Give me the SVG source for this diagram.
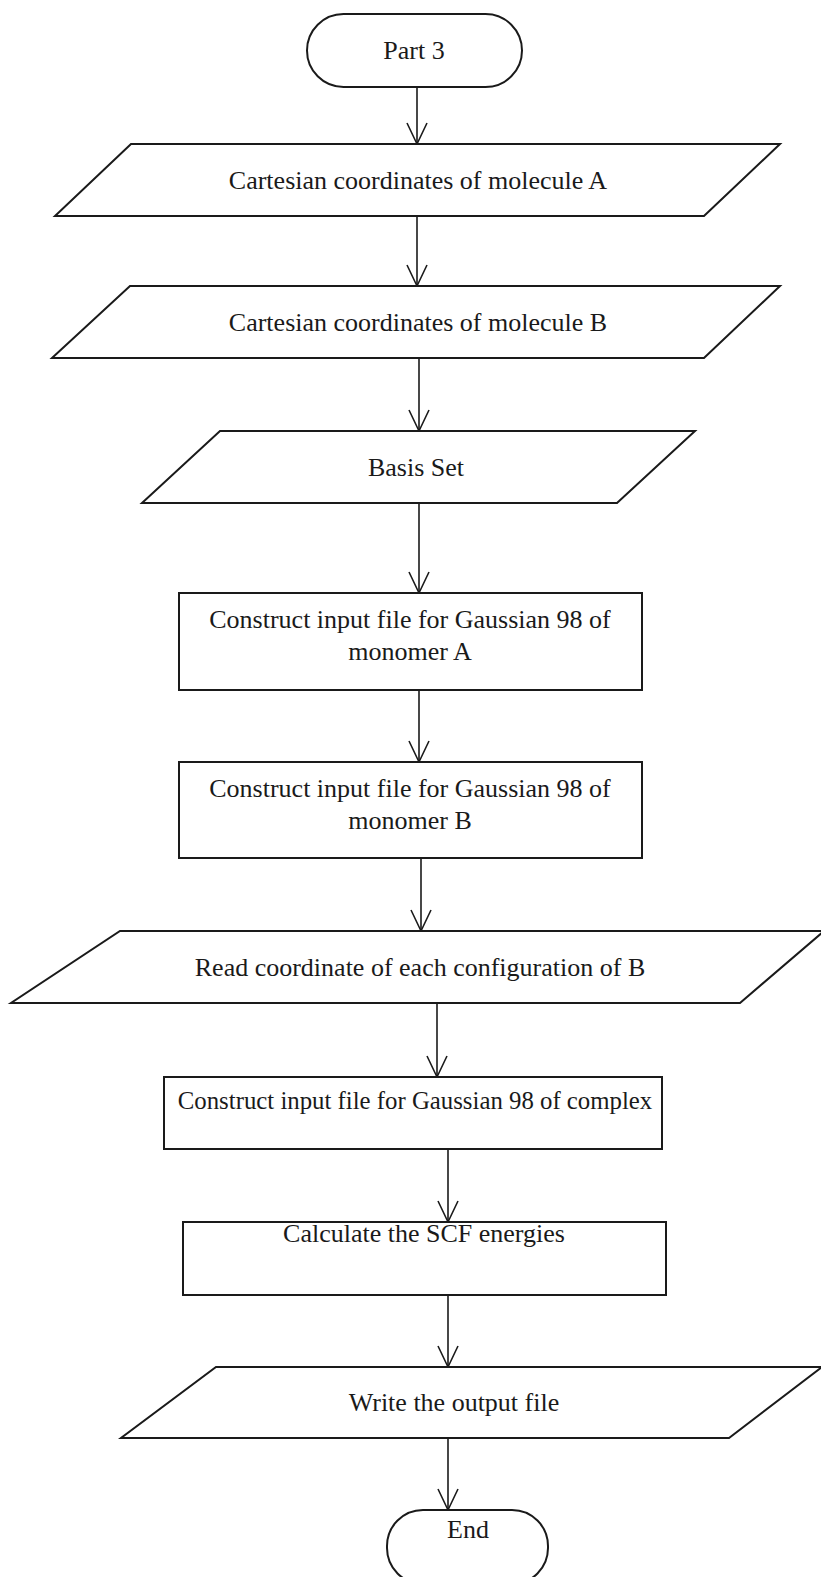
<svg xmlns="http://www.w3.org/2000/svg" width="821" height="1577" viewBox="0 0 821 1577">
<style>
.shape{fill:#fff;stroke:#1a1a1a;stroke-width:2}
.conn{stroke:#1a1a1a;stroke-width:1.6;fill:none}
.lbl{font-family:"Liberation Serif","Times New Roman",serif;font-size:26px;fill:#1a1a1a;text-anchor:middle}
</style>
<defs>
<marker id="vh" markerUnits="userSpaceOnUse" viewBox="-23 -12 25 24" refX="0" refY="0" markerWidth="25" markerHeight="24" orient="auto" overflow="visible">
<path d="M-21,-10 L0,0 L-21,10" fill="none" stroke="#1a1a1a" stroke-width="1.6"/>
</marker>
</defs>
<rect width="821" height="1577" fill="#fff"/>
<g id="connectors">
<line class="conn" x1="417" y1="87" x2="417" y2="144" marker-end="url(#vh)"/>
<line class="conn" x1="417" y1="216" x2="417" y2="286" marker-end="url(#vh)"/>
<line class="conn" x1="419" y1="358" x2="419" y2="431" marker-end="url(#vh)"/>
<line class="conn" x1="419" y1="503" x2="419" y2="593" marker-end="url(#vh)"/>
<line class="conn" x1="419" y1="690" x2="419" y2="762" marker-end="url(#vh)"/>
<line class="conn" x1="421" y1="858" x2="421" y2="931" marker-end="url(#vh)"/>
<line class="conn" x1="437" y1="1003" x2="437" y2="1077" marker-end="url(#vh)"/>
<line class="conn" x1="448" y1="1149" x2="448" y2="1222" marker-end="url(#vh)"/>
<line class="conn" x1="448" y1="1295" x2="448" y2="1367" marker-end="url(#vh)"/>
<line class="conn" x1="448" y1="1438" x2="448" y2="1510" marker-end="url(#vh)"/>
</g>
<g id="start">
<rect class="shape" x="307" y="14" width="215" height="73" rx="36.5"/>
<text class="lbl" x="414" y="59">Part 3</text>
</g>
<g id="coordA">
<polygon class="shape" points="131,144 780,144 704,216 55,216"/>
<text class="lbl" x="418" y="189">Cartesian coordinates of molecule A</text>
</g>
<g id="coordB">
<polygon class="shape" points="130,286 780,286 704,358 52,358"/>
<text class="lbl" x="418" y="331">Cartesian coordinates of molecule B</text>
</g>
<g id="basis">
<polygon class="shape" points="220,431 695,431 617,503 142,503"/>
<text class="lbl" x="416" y="476">Basis Set</text>
</g>
<g id="inputA">
<rect class="shape" x="179" y="593" width="463" height="97"/>
<text class="lbl" x="410" y="628">Construct input file for Gaussian 98 of</text>
<text class="lbl" x="410" y="660">monomer A</text>
</g>
<g id="inputB">
<rect class="shape" x="179" y="762" width="463" height="96"/>
<text class="lbl" x="410" y="797">Construct input file for Gaussian 98 of</text>
<text class="lbl" x="410" y="829">monomer B</text>
</g>
<g id="readB">
<polygon class="shape" points="120,931 824,931 740,1003 11,1003"/>
<text class="lbl" x="420" y="976">Read coordinate of each configuration of B</text>
</g>
<g id="inputComplex">
<rect class="shape" x="164" y="1077" width="498" height="72"/>
<text class="lbl" x="415" y="1109" style="font-size:24.8px">Construct input file for Gaussian 98 of complex</text>
</g>
<g id="scf">
<rect class="shape" x="183" y="1222" width="483" height="73"/>
<text class="lbl" x="424" y="1242">Calculate the SCF energies</text>
</g>
<g id="write">
<polygon class="shape" points="216,1367 822,1367 729,1438 121,1438"/>
<text class="lbl" x="454" y="1411">Write the output file</text>
</g>
<g id="end">
<rect class="shape" x="387" y="1510" width="161" height="74" rx="36"/>
<text class="lbl" x="468" y="1538">End</text>
</g>
</svg>
